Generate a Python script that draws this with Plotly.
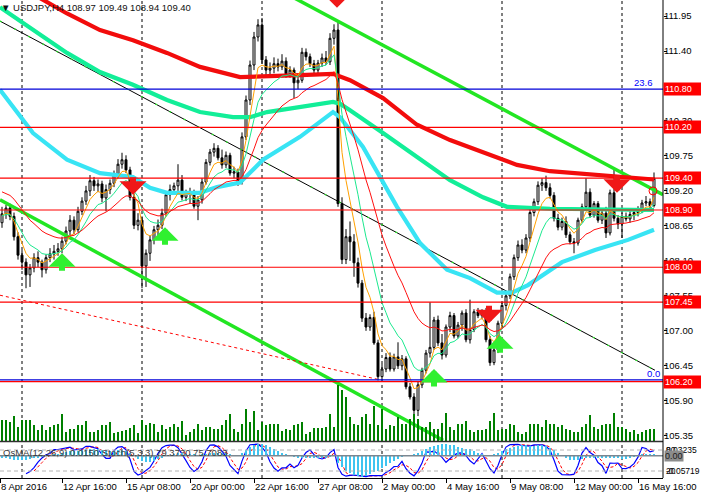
import plotly.graph_objects as go

# ---------------- data ----------------
# bar index 0 = 8 Apr 2016 04:00 (H4 bars)
opens = [108.70,108.84,108.93,108.80,108.48,108.19,108.08,107.88,107.99,108.15,
         108.08,107.96,108.15,108.21,108.25,108.29,108.41,108.57,108.74,108.59,
         108.88,109.04,109.20,109.36,109.28,109.31,109.09,109.22,109.32,109.47,
         109.62,109.69,109.53,109.10,108.66,108.74,108.02,108.22,108.43,108.59,
         108.66,108.85,109.14,109.22,109.28,109.37,109.10,109.17,109.18,108.96,
         109.06,109.34,109.65,109.81,109.87,109.72,109.61,109.76,109.48,109.50,
         109.34,110.05,110.63,111.18,111.62,111.81,111.26,111.10,111.13,111.20,
         111.15,111.24,111.04,111.10,110.90,110.94,111.38,111.31,111.20,111.10,
         111.21,111.29,111.23,111.60,111.73,109.00,108.12,108.48,108.40,108.07,
         107.75,107.20,107.06,107.21,106.81,106.28,106.40,106.58,106.40,106.59,
         106.45,106.56,106.12,105.96,105.75,106.15,106.38,106.65,106.74,107.17,
         106.81,106.62,107.06,107.24,106.92,107.09,107.28,106.86,107.02,107.30,
         107.24,107.30,106.86,106.50,106.70,107.12,107.40,107.55,107.85,108.15,
         108.35,108.27,108.46,108.86,109.03,109.29,109.33,109.25,109.13,108.77,
         108.63,108.72,108.51,108.40,108.38,108.74,108.95,109.18,108.82,109.00,
         108.74,108.85,108.54,109.17,108.77,108.68,108.80,108.76,108.83,108.86,
         108.90,109.01,109.03,108.97]
highs = [108.95,108.98,109.00,108.86,108.55,108.27,108.14,108.05,108.22,108.25,
         108.12,108.20,108.30,108.35,108.38,108.48,108.64,108.82,108.80,108.95,
         109.10,109.28,109.45,109.42,109.38,109.36,109.30,109.38,109.52,109.70,
         109.80,109.76,109.58,109.16,108.85,108.80,108.28,108.50,108.65,108.75,
         108.92,109.18,109.30,109.33,109.62,109.45,109.22,109.25,109.22,109.12,
         109.40,109.70,109.86,109.95,109.92,109.85,109.82,109.80,109.58,109.55,
         110.12,110.70,111.25,111.70,111.90,111.92,111.32,111.22,111.30,111.28,
         111.35,111.30,111.16,111.14,111.02,111.45,111.44,111.36,111.26,111.26,
         111.36,111.40,111.68,111.82,111.86,109.10,108.60,108.72,108.52,108.15,
         107.80,107.28,107.26,107.30,106.86,106.48,106.65,106.66,106.64,106.82,
         106.62,106.60,106.18,106.02,106.20,106.42,106.70,107.45,107.22,107.24,
         106.95,107.10,107.30,107.28,107.14,107.32,107.34,107.49,107.34,107.36,
         107.34,107.36,106.92,106.74,107.16,107.45,107.62,107.90,108.20,108.42,
         108.44,108.52,108.92,109.08,109.35,109.40,109.44,109.32,109.18,108.84,
         108.78,108.80,108.56,108.46,108.78,109.00,109.40,109.24,109.04,109.04,
         108.90,108.95,109.22,109.53,108.82,108.86,108.86,108.88,108.92,108.96,
         109.06,109.12,109.08,109.49]
lows =  [108.62,108.76,108.74,108.42,108.12,107.96,107.67,107.69,107.92,108.00,
         107.84,107.90,108.08,108.12,108.18,108.22,108.36,108.50,108.52,108.55,
         108.82,108.98,109.12,109.20,109.18,109.02,108.88,109.15,109.26,109.40,
         109.55,109.48,109.05,108.60,108.58,107.67,107.69,108.10,108.36,108.50,
         108.60,108.80,109.05,109.15,109.20,109.05,109.04,109.00,108.92,108.74,
         109.00,109.30,109.60,109.74,109.68,109.55,109.56,109.44,109.40,109.28,
         109.30,110.00,110.55,111.10,111.55,111.20,111.00,110.98,111.05,111.08,
         111.10,110.98,110.98,110.66,110.80,110.90,111.25,111.15,111.02,111.05,
         111.15,111.18,111.18,111.50,108.95,108.05,108.05,108.10,107.85,107.68,
         107.14,107.00,107.00,106.78,106.22,106.22,106.35,106.36,106.36,106.40,
         106.38,106.08,105.92,105.66,105.66,106.10,106.33,106.58,106.70,106.76,
         106.55,106.58,106.98,106.88,106.88,107.00,106.82,106.80,106.98,107.20,
         107.18,106.82,106.45,106.46,106.65,107.05,107.32,107.50,107.80,108.10,
         108.22,108.22,108.40,108.80,108.98,109.20,109.20,109.08,108.72,108.58,
         108.58,108.46,108.36,108.22,108.34,108.70,108.90,108.78,108.78,108.70,
         108.68,108.46,108.50,108.72,108.60,108.46,108.72,108.70,108.74,108.80,
         108.85,108.96,108.92,108.94]
closes = [108.84,108.93,108.80,108.48,108.19,108.08,107.88,107.99,108.15,108.08,
          107.96,108.15,108.21,108.25,108.29,108.41,108.57,108.74,108.59,108.88,
          109.04,109.20,109.36,109.28,109.31,109.09,109.22,109.32,109.47,109.62,
          109.69,109.53,109.10,108.66,108.74,108.02,108.22,108.43,108.59,108.66,
          108.85,109.14,109.22,109.28,109.37,109.10,109.17,109.18,108.96,109.06,
          109.34,109.65,109.81,109.87,109.72,109.61,109.76,109.48,109.50,109.34,
          110.05,110.63,111.18,111.62,111.81,111.26,111.10,111.13,111.20,111.15,
          111.24,111.04,111.10,110.90,110.94,111.38,111.31,111.20,111.10,111.21,
          111.29,111.23,111.60,111.73,109.00,108.12,108.48,108.40,108.07,107.75,
          107.20,107.06,107.21,106.81,106.28,106.40,106.58,106.40,106.59,106.45,
          106.56,106.12,105.96,105.75,106.15,106.38,106.65,106.74,107.17,106.81,
          106.62,107.06,107.24,106.92,107.09,107.28,106.86,107.02,107.30,107.24,
          107.30,106.86,106.50,106.70,107.12,107.40,107.55,107.85,108.15,108.35,
          108.27,108.46,108.86,109.03,109.29,109.33,109.25,109.13,108.77,108.63,
          108.72,108.51,108.40,108.38,108.74,108.95,109.18,108.82,109.00,108.74,
          108.85,108.54,109.17,108.77,108.68,108.80,108.76,108.83,108.86,108.90,
          109.01,109.03,108.97,109.40]
volume = [22,22,20,26,15,22,22,22,17,12, 17,12,15,17,18,28,10,13,13,17,
          17,21,10,10,12,17,17,20,9,10, 11,12,14,17,9,22,17,19,18,10,
          17,13,15,18,15,21,7,10,13,18, 12,15,15,13,13,17,22,28,13,10,
          18,33,20,31,12,20,17,18,18,18, 11,13,12,17,18,20,8,10,14,14,
          14,15,28,15,57,52,45,
          25,18,17,25,28,18,36,17,33,13, 17,16,25,18,18,23,28,23,15,15,
          20,13,13,19,29,15,12,18,18,21, 12,10,12,12,13,21,29,12,13,13,
          18,17,10,8,10,18,18,18,15,22, 18,18,15,17,13,12,10,10,15,18,
          27,15,13,17,18,18,29,15,15,13, 10,12,8,10,12,13,13]
osma = [-0.006,-0.007,-0.008,-0.010,-0.011,
        -0.012,-0.011,-0.009,-0.007,-0.005,-0.003,
        -0.001,0.001,0.003,0.005,0.007,
        0.009,0.011,0.012,0.013,0.014,0.016,0.017,
        0.017,0.016,0.014,0.013,0.013,0.013,0.014,0.014,0.012,
        0.006,-0.002,-0.008,-0.014,-0.017,-0.016,-0.013,-0.009,-0.005,
        -0.001,0.002,0.004,0.006,0.006,0.005,0.004,0.003,0.002,0.003,
        0.005,0.007,0.008,0.008,0.007,0.006,0.004,0.002,0.001,0.006,
        0.014,0.022,0.028,0.031,0.030,0.026,0.021,0.016,0.011,0.007,
        0.003,-0.001,-0.004,-0.006,-0.005,-0.005,-0.006,-0.007,-0.007,-0.006,-0.006,-0.004,-0.002,
        -0.018,-0.030,-0.038,-0.045,-0.050,-0.053,-0.055,-0.052,-0.048,-0.043,-0.038,
        -0.032,-0.026,-0.020,-0.014,-0.008,-0.003,0.001,0.002,0.003,
        0.006,0.011,0.016,0.021,0.025,0.028,0.030,0.030,0.028,0.026,0.023,0.020,0.018,0.016,0.012,0.008,0.005,
        0.002,0.000,0.003,0.007,
        0.012,0.016,0.020,0.023,0.025,0.026,0.026,0.025,0.025,0.026,0.026,0.024,0.020,0.014,
        0.006,-0.002,-0.007,-0.010,-0.011,-0.010,-0.008,
        -0.006,-0.005,-0.005,-0.006,-0.006,-0.007,-0.006,-0.006,-0.007,-0.008,-0.008,-0.006,-0.003,
        0.000,0.003,0.004,0.004,0.004]

# slow moving averages at a few bars
red_ma_x = [9, 16.25, 24.5, 32.75, 41.25, 49.5, 59.5, 66.25, 74.5, 82.75, 87, 95.25,
            103.75, 112, 120.25, 128.75, 137, 145.25, 153.75, 162, 163]
red_ma_y = [112.25, 111.99, 111.73, 111.57, 111.37, 111.15, 110.99, 111.01, 111.02, 111.04,
            110.94, 110.66, 110.24, 110.00, 109.80, 109.61, 109.51, 109.47, 109.42, 109.39, 109.38]
sg_ma_x = [-0.5, 7.75, 16.25, 24.5, 32.75, 41.25, 49.5, 57.75, 62, 66.25, 74.5, 82.75,
           84.5, 87, 95.25, 103.75, 112, 120.25, 126.25, 137, 150, 163]
sg_ma_y = [112.09, 111.73, 111.37, 111.07, 110.87, 110.63, 110.44, 110.36, 110.36, 110.44,
           110.52, 110.60, 110.57, 110.47, 110.11, 109.73, 109.37, 109.10, 108.95, 108.92,
           108.91, 108.90]
cy_ma_x = [-0.5, 7.75, 16.25, 24.5, 32.75, 37, 41.25, 49.5, 53.75, 59.5, 65.25, 74.5,
           82.75, 84.5, 90.25, 94.5, 98.75, 104.5, 111.25, 117, 123.75, 127.5, 131.5,
           140, 148.25, 156.5, 163]
cy_ma_y = [110.79, 110.11, 109.69, 109.48, 109.42, 109.25, 109.17, 109.17, 109.26, 109.33,
           109.69, 110.05, 110.44, 110.36, 109.89, 109.42, 108.95, 108.38, 107.96, 107.83,
           107.60, 107.60, 107.72, 108.08, 108.27, 108.43, 108.59]
ema_periods = [5, 10, 21]
ema_seeds = [108.80, 108.80, 109.22]

# trend lines (bar index, price)
upper_chan_x, upper_chan_y = [72, 165.25], [112.27, 109.14]
lower_chan_x, lower_chan_y = [-0.5, 110.25], [109.06, 105.28]
black_tl_x, black_tl_y = [-0.5, 163.25], [111.87, 106.38]
red_dash_x, red_dash_y = [-0.5, 93.75], [107.56, 106.24]

# horizontal levels
red_levels = [110.20, 109.40, 108.90, 108.00, 107.45, 106.20]
label_levels = [110.80, 110.20, 109.40, 108.90, 108.00, 107.45, 106.20]
fib_levels = [110.80, 106.23]
fib_names = ["23.6", "0.0"]
week_starts = [5, 35, 65, 95, 125, 155]

# signal arrows (bar, tip price)
sell_x = [32.75, 83.75, 121.75, 153.75]
sell_y = [109.14, 112.08, 107.12, 109.17]
buy_x = [15, 40.75, 108, 124.5]
buy_y = [108.22, 108.63, 106.40, 106.93]

x_tick_pos = [-0.5, 15, 31, 47, 63, 79, 95, 111, 127, 143, 159]
x_tick_txt = ["8 Apr 2016", "12 Apr 16:00", "15 Apr 08:00", "20 Apr 00:00", "22 Apr 16:00",
              "27 Apr 08:00", "2 May 00:00", "4 May 16:00", "9 May 08:00", "12 May 00:00",
              "16 May 16:00"]
y_ticks = [105.35, 105.90, 106.45, 107.00, 107.55, 108.10, 108.65, 109.20, 109.75,
           110.30, 110.85, 111.40, 111.95]

# ---------------- derived indicators ----------------
n = len(closes)
bars = list(range(n))

def ema(vals, period, seed):
    a = 2.0 / (period + 1)
    out, prev = [], seed
    for v in vals:
        prev = prev + a * (v - prev)
        out.append(prev)
    return out

emas = [ema(closes, p, s) for p, s in zip(ema_periods, ema_seeds)]

def stochastic(h, l, c, k=5, slow=3, d=3):
    num = [None] * len(c)
    den = [None] * len(c)
    for i in range(k - 1, len(c)):
        hh = max(h[i - k + 1:i + 1]); ll = min(l[i - k + 1:i + 1])
        num[i] = c[i] - ll; den[i] = hh - ll
    K = [None] * len(c)
    for i in range(k + slow - 2, len(c)):
        sn = sum(num[i - slow + 1:i + 1]); sd = sum(den[i - slow + 1:i + 1])
        K[i] = 100.0 * sn / sd if sd else 50.0
    D = [None] * len(c)
    for i in range(k + slow + d - 3, len(c)):
        D[i] = sum(K[i - d + 1:i + 1]) / d
    return K, D

stK, stD = stochastic(highs, lows, closes)

# ---------------- figure ----------------
FONT = "Liberation Sans"
FS = 9.5
main_bottom = 36.5 / 478
ind_top = 35.0 / 478

fig = go.Figure()

fig.add_trace(go.Bar(x=bars, y=volume, width=0.28, marker=dict(color="#008000", line_width=0),
                     xaxis="x", yaxis="y3", hoverinfo="skip"))

for lx, ly in [(lower_chan_x, lower_chan_y), (upper_chan_x, upper_chan_y)]:
    fig.add_trace(go.Scatter(x=lx, y=ly, mode="lines", line=dict(color="#22E622", width=3.5),
                             xaxis="x", yaxis="y", hoverinfo="skip"))
fig.add_trace(go.Scatter(x=black_tl_x, y=black_tl_y, mode="lines", line=dict(color="black", width=1),
                         xaxis="x", yaxis="y", hoverinfo="skip"))
fig.add_trace(go.Scatter(x=black_tl_x, y=black_tl_y, mode="lines",
                         line=dict(color="#22E622", width=1.2, dash="2px,14px"),
                         xaxis="x", yaxis="y", hoverinfo="skip"))
fig.add_trace(go.Scatter(x=red_dash_x, y=red_dash_y, mode="lines",
                         line=dict(color="red", width=1, dash="3px,3px"),
                         xaxis="x", yaxis="y", hoverinfo="skip"))

fig.add_trace(go.Candlestick(x=bars, open=opens, high=highs, low=lows, close=closes,
                             increasing=dict(line=dict(color="black", width=1), fillcolor="white"),
                             decreasing=dict(line=dict(color="black", width=1), fillcolor="black"),
                             whiskerwidth=0, xaxis="x", yaxis="y", hoverinfo="skip"))

for mx, my, col in [(red_ma_x, red_ma_y, "#F20C0C"), (sg_ma_x, sg_ma_y, "#12EE98"),
                    (cy_ma_x, cy_ma_y, "#38E4F4")]:
    fig.add_trace(go.Scatter(x=mx, y=my, mode="lines", line=dict(color=col, width=4.2),
                             xaxis="x", yaxis="y", hoverinfo="skip"))

for vals, col in zip(emas, ["#FFA000", "#1BE88E", "#FF1010"]):
    fig.add_trace(go.Scatter(x=bars, y=vals, mode="lines", line=dict(color=col, width=1),
                             xaxis="x", yaxis="y", hoverinfo="skip"))

fig.add_trace(go.Scatter(x=[bars[-1] - 0.25], y=[109.20], mode="markers",
                         marker=dict(symbol="circle-open", size=8, color="red", line=dict(width=1)),
                         xaxis="x", yaxis="y", hoverinfo="skip"))

# indicator window
fig.add_trace(go.Bar(x=bars, y=osma, width=0.55, marker=dict(color="#3EC4F0", line_width=0),
                     xaxis="x", yaxis="y4", hoverinfo="skip"))
fig.add_trace(go.Scatter(x=bars, y=stD, mode="lines", line=dict(color="red", width=1, dash="3px,2px"),
                         xaxis="x", yaxis="y2", hoverinfo="skip"))
fig.add_trace(go.Scatter(x=bars, y=stK, mode="lines", line=dict(color="#0000FF", width=1.2),
                         xaxis="x", yaxis="y2", hoverinfo="skip"))

shapes = []
for wx in week_starts:
    shapes.append(dict(type="line", xref="x", yref="paper", x0=wx, x1=wx, y0=0, y1=1,
                       line=dict(color="black", width=1, dash="3px,3px"), layer="below"))
for lv in red_levels:
    shapes.append(dict(type="line", xref="paper", yref="y", x0=0, x1=1, y0=lv, y1=lv,
                       line=dict(color="#FF0000", width=1.2)))
for lv in fib_levels:
    shapes.append(dict(type="line", xref="paper", yref="y", x0=0, x1=1, y0=lv, y1=lv,
                       line=dict(color="#0000D8", width=1.2)))
for lv in [80, 20]:
    shapes.append(dict(type="line", xref="paper", yref="y2", x0=0, x1=1, y0=lv, y1=lv,
                       line=dict(color="#B4B4B4", width=1, dash="4px,3px")))
shapes.append(dict(type="line", xref="paper", yref="y4", x0=0, x1=1, y0=0, y1=0,
                   line=dict(color="#7C8790", width=1.5)))
shapes.append(dict(type="line", xref="paper", yref="paper", x0=0, x1=1, y0=main_bottom, y1=main_bottom,
                   line=dict(color="#303030", width=1.5)))
shapes.append(dict(type="line", xref="paper", yref="paper", x0=1, x1=1, y0=0, y1=1,
                   line=dict(color="black", width=1)))

ann = []
ann.append(dict(text="▼ USDJPY,H4 108.97 109.49 108.94 109.40", xref="paper", yref="paper",
                x=0, y=1, xanchor="left", yanchor="top", showarrow=False, xshift=-1,
                font=dict(family=FONT, size=FS, color="#101010")))
for lv in label_levels:
    ann.append(dict(text=f"{lv:.2f}", xref="paper", yref="y", x=1, y=lv, xanchor="left",
                    yanchor="middle", xshift=0, showarrow=False, bgcolor="#FF0000",
                    borderpad=1, width=36, align="left",
                    font=dict(family=FONT, size=9, color="white")))
for lv, nm in zip(fib_levels, fib_names):
    ann.append(dict(text=nm, xref="paper", yref="y", x=1, y=lv, xanchor="right", yanchor="bottom",
                    xshift=-8 if nm == "23.6" else -1, yshift=-1, showarrow=False,
                    font=dict(family=FONT, size=FS, color="#0000FF")))
for sx, sy in zip(sell_x, sell_y):
    ann.append(dict(x=sx, y=sy, xref="x", yref="y", ax=0, ay=-19, text="", showarrow=True,
                    arrowhead=1, arrowsize=0.75, arrowwidth=6, arrowcolor="#F01818"))
for bx, by in zip(buy_x, buy_y):
    ann.append(dict(x=bx, y=by, xref="x", yref="y", ax=0, ay=19, text="", showarrow=True,
                    arrowhead=1, arrowsize=0.75, arrowwidth=6, arrowcolor="#30F030"))
ann.append(dict(text="OsMA(12,26,9) 0.0150 Stoch(5,3,3) 79.3730 75.7083", xref="paper", yref="y2",
                x=0, y=74, xanchor="left", yanchor="middle", xshift=1, showarrow=False,
                font=dict(family=FONT, size=FS, color="#3A3A3A")))
for txt, yv in [("0.03235", 80), ("80", 80), ("-0.05719", 20), ("20", 20)]:
    ann.append(dict(text=txt, xref="paper", yref="y2", x=1, y=yv, xanchor="left", yanchor="middle",
                    xshift=1, showarrow=False, font=dict(family=FONT, size=8.5, color="black")))
ann.append(dict(text="0.00", xref="paper", yref="y4", x=1, y=0, xanchor="left", yanchor="middle",
                xshift=1, showarrow=False, bgcolor="#8C8C8C", borderpad=0,
                font=dict(family=FONT, size=9, color="#202020")))

fig.update_layout(
    width=701, height=499, margin=dict(l=0, r=38, t=0, b=21, autoexpand=False),
    paper_bgcolor="white", plot_bgcolor="white", showlegend=False,
    shapes=shapes, annotations=ann, bargap=0,
    xaxis=dict(domain=[0, 1], range=[-0.5, 165.25], anchor="y2", tickvals=x_tick_pos,
               ticktext=x_tick_txt, ticks="outside", ticklen=4, tickcolor="black",
               ticklabelposition="outside right", tickangle=0, automargin=False,
               showgrid=False, zeroline=False, showline=True, linecolor="black", linewidth=1,
               tickfont=dict(family=FONT, size=FS, color="black"),
               rangeslider=dict(visible=False), fixedrange=True),
    yaxis=dict(domain=[main_bottom, 1], range=[105.26, 112.202], side="right", anchor="x",
               tickvals=y_ticks, ticktext=[f"{v:.2f}" for v in y_ticks], ticks="outside",
               ticklen=3, tickcolor="black", showgrid=False, zeroline=False, showline=False,
               automargin=False, ticklabelstandoff=-5,
               tickfont=dict(family=FONT, size=FS, color="black")),
    yaxis2=dict(domain=[0, ind_top], range=[0, 100], side="right", anchor="x", automargin=False,
                showticklabels=False, ticks="", showgrid=False, zeroline=False, showline=False),
    yaxis3=dict(overlaying="y", range=[0, 441.5], visible=False),
    yaxis4=dict(overlaying="y2", range=[-0.05719, 0.03235], visible=False),
)

# the page body's default 8px margin would push the figure off its 701x499 frame
fig.write_html("out.html", config={"displayModeBar": False, "staticPlot": True},
               post_script="document.body.style.margin='0';")
